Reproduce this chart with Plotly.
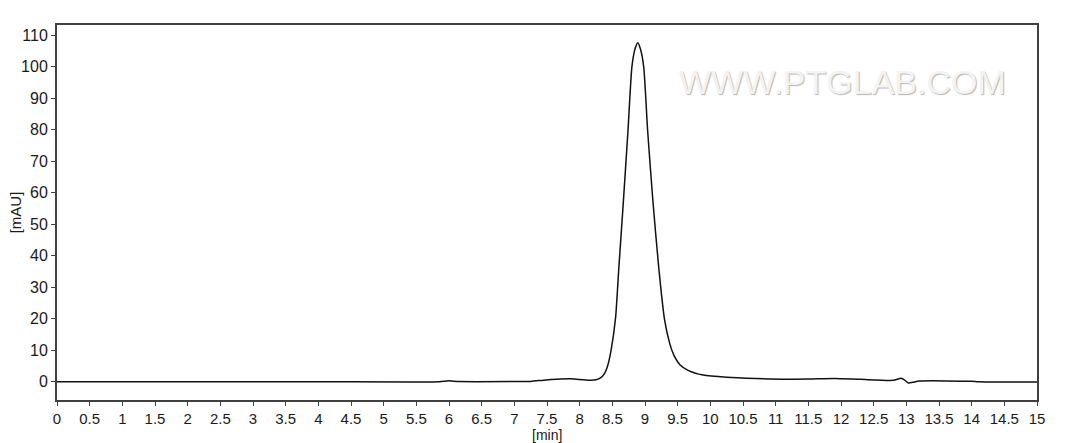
import plotly.graph_objects as go

# Retention time [min] and signal [mAU]
time_min = [0.0, 2.0, 4.0, 5.85, 6.0, 6.15, 7.0, 7.25, 7.45, 7.65, 7.85, 7.95,
            8.15, 8.25, 8.33, 8.38, 8.42, 8.48, 8.55, 8.60, 8.66, 8.74, 8.80,
            8.85, 8.89, 8.93, 8.98, 9.04, 9.12, 9.21, 9.30, 9.38, 9.44, 9.53,
            9.66, 9.89, 10.25, 10.7, 11.1, 11.5, 11.9, 12.3, 12.8, 12.92,
            12.97, 13.03, 13.1, 13.2, 14.0, 14.1, 15.0]
signal_mau = [0.0, 0.0, 0.0, 0.0, 0.3, 0.05, 0.05, 0.1, 0.5, 0.8, 0.95, 0.8,
              0.5, 0.6, 1.4, 2.6, 4.5, 9.9, 20.4, 36.3, 54.4, 79.8, 100.0,
              105.8, 107.6, 105.6, 100.0, 79.8, 57.6, 36.3, 19.6, 12.0, 8.5, 5.5,
              3.6, 2.1, 1.4, 1.0, 0.8, 0.85, 1.05, 0.75, 0.45, 1.1,
              0.6, -0.4, -0.2, 0.2, 0.15, 0.0, -0.1]

x_ticks = [i * 0.5 for i in range(31)]
x_tick_labels = [("%g" % v) for v in x_ticks]
y_ticks = list(range(0, 111, 10))

x_title = "[min]"
y_title = "[mAU]"
watermark = "WWW.PTGLAB.COM"

FONT = "Liberation Sans, Arial, sans-serif"

fig = go.Figure()
fig.add_trace(go.Scatter(
    x=time_min, y=signal_mau, mode="lines",
    line=dict(color="#111111", width=1.5, shape="spline", smoothing=0.6),
    hoverinfo="x+y", showlegend=False,
))

axis_common = dict(
    showgrid=False, zeroline=False, showline=True, mirror=True,
    linecolor="#404040", linewidth=2, ticks="outside", ticklen=4,
    tickwidth=1, tickcolor="#404040", automargin=False,
)

fig.update_layout(
    width=1060, height=435,
    margin=dict(l=49, r=31, t=17, b=43),
    paper_bgcolor="white", plot_bgcolor="white",
    xaxis=dict(range=[0, 15], tickvals=x_ticks, ticktext=x_tick_labels,
               tickfont=dict(family=FONT, size=15, color="#1a1a1a"), **axis_common),
    yaxis=dict(range=[-5.8, 113.2], tickvals=y_ticks,
               tickfont=dict(family=FONT, size=16, color="#1a1a1a"), **axis_common),
    annotations=[
        dict(x=0.5, y=-0.093, xref="paper", yref="paper", text=x_title,
             showarrow=False, xanchor="center", yanchor="middle", borderpad=0,
             font=dict(family=FONT, size=14, color="#1a1a1a")),
        dict(x=-0.042, y=0.5, xref="paper", yref="paper", text=y_title,
             showarrow=False, xanchor="center", yanchor="middle", textangle=-90,
             borderpad=0, font=dict(family=FONT, size=15, color="#1a1a1a")),
        dict(x=12.03, y=95.1, xref="x", yref="y", text=watermark, showarrow=False,
             font=dict(family=FONT, size=34, color="#f3f3f3",
                       shadow="1px 1px 1px #b4b4b4")),
    ],
)

fig.write_html("out.html")
